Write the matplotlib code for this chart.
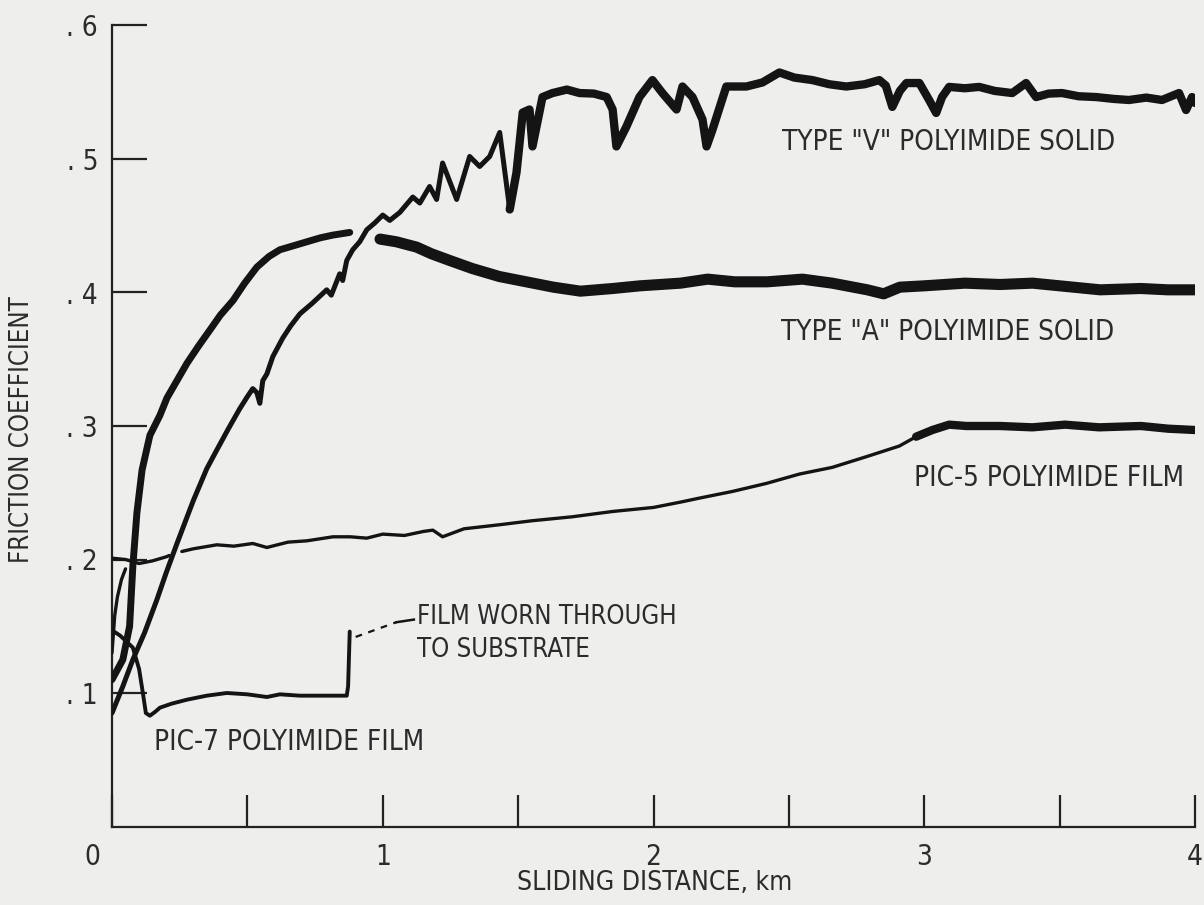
import numpy as np
import matplotlib
matplotlib.use("Agg")
import matplotlib.pyplot as plt
import matplotlib.transforms as mtransforms
from matplotlib import font_manager as fm

# pick a condensed face if one is installed
_cands = []
for f in fm.fontManager.ttflist:
    st = str(f.stretch).lower()
    if ('condensed' in st or 'narrow' in f.name.lower()) and str(f.weight) in ('400', 'normal', 'regular') \
            and f.style == 'normal':
        _cands.append(f)
_pref = ['Liberation Sans Narrow', 'DejaVu Sans', 'Noto Sans', 'Open Sans', 'Roboto']
FONT = dict(family=['DejaVu Sans'])
CONDENSED = False
for p in _pref:
    hit = [f for f in _cands if f.name == p]
    if hit:
        FONT = dict(family=[p, 'DejaVu Sans'], stretch=hit[0].stretch)
        CONDENSED = True
        break
plt.rcParams['font.family'] = FONT['family']
if CONDENSED:
    plt.rcParams['font.stretch'] = FONT['stretch']

# ---------------- data ----------------
nan = np.nan

# Type "V" polyimide solid
v_x = [0.0, 0.04, 0.077, 0.12, 0.166, 0.2, 0.24, 0.3, 0.35, 0.387, 0.43, 0.472, 0.50, 0.52,
       0.535, 0.546, 0.557, 0.572, 0.594, 0.631, 0.66, 0.694, 0.74, 0.793, 0.81, 0.841, 0.852,
       0.867, 0.889, 0.915, 0.941, 0.97, 1.0, 1.026, 1.063, 1.111, 1.137, 1.173, 1.199, 1.221,
       1.273, 1.321, 1.358, 1.395, 1.432, 1.469, 1.494, 1.517, 1.542, 1.553, 1.590, 1.627,
       1.68, 1.727, 1.78, 1.827, 1.849, 1.863, 1.900, 1.948, 1.996, 2.033, 2.085, 2.107, 2.144,
       2.181, 2.196, 2.218, 2.269, 2.343, 2.402, 2.465, 2.52, 2.587, 2.649, 2.712, 2.78, 2.834,
       2.858, 2.882, 2.91, 2.934, 2.982, 3.018, 3.044, 3.066, 3.092, 3.15, 3.203, 3.26, 3.325,
       3.376, 3.413, 3.46, 3.509, 3.57, 3.635, 3.70, 3.756, 3.82, 3.878, 3.941, 3.967, 3.989, 4.0]
v_y = [0.085, 0.105, 0.125, 0.145, 0.17, 0.19, 0.212, 0.244, 0.268, 0.282, 0.298, 0.313, 0.322,
       0.328, 0.325, 0.317, 0.334, 0.339, 0.352, 0.366, 0.375, 0.384, 0.392, 0.402, 0.398, 0.414,
       0.409, 0.424, 0.432, 0.438, 0.447, 0.452, 0.458, 0.454, 0.460, 0.4715, 0.467, 0.4794,
       0.4697, 0.497, 0.4697, 0.5019, 0.4944, 0.5019, 0.5199, 0.4622, 0.4899, 0.5348, 0.5371,
       0.5094, 0.5464, 0.5494, 0.552, 0.5494, 0.549, 0.5464, 0.5371, 0.5094, 0.5243, 0.5464,
       0.5591, 0.5494, 0.5371, 0.5543, 0.5464, 0.5296, 0.5094, 0.522, 0.5543, 0.5543, 0.5573,
       0.5648, 0.561, 0.5591, 0.5560, 0.5543, 0.556, 0.5591, 0.555, 0.539, 0.551, 0.5569, 0.5569,
       0.5442, 0.5345, 0.5465, 0.554, 0.553, 0.554, 0.551, 0.5494, 0.5569, 0.5464, 0.549, 0.5494,
       0.547, 0.5464, 0.545, 0.5442, 0.546, 0.5442, 0.5494, 0.5367, 0.5464, 0.542]

# Type "A" polyimide solid
a_x = [0.0, 0.04, 0.065, 0.077, 0.092, 0.111, 0.14, 0.177, 0.203, 0.24, 0.277, 0.32, 0.362,
       0.40, 0.447, 0.49, 0.535, 0.58, 0.62, 0.67, 0.72, 0.77, 0.816, 0.878, nan,
       0.99, 1.05, 1.125, 1.18, 1.247, 1.33, 1.43, 1.53, 1.63, 1.73, 1.85, 1.95, 2.1, 2.2, 2.3,
       2.42, 2.55, 2.66, 2.79, 2.85, 2.91, 3.0, 3.15, 3.28, 3.4, 3.5, 3.65, 3.8, 3.9, 4.0]
a_y = [0.110, 0.125, 0.150, 0.195, 0.235, 0.267, 0.293, 0.308, 0.321, 0.334, 0.347, 0.360,
       0.372, 0.383, 0.394, 0.407, 0.419, 0.427, 0.432, 0.435, 0.438, 0.441, 0.443, 0.445, nan,
       0.440, 0.438, 0.434, 0.429, 0.424, 0.418, 0.412, 0.408, 0.404, 0.401, 0.403, 0.405, 0.407,
       0.410, 0.408, 0.408, 0.410, 0.407, 0.402, 0.399, 0.404, 0.405, 0.407, 0.406, 0.407, 0.405,
       0.402, 0.403, 0.402, 0.402]

# PIC-5 polyimide film
p5_x = [0.0, 0.05, 0.1, 0.15, 0.2, 0.212, nan, 0.258, 0.3, 0.387, 0.45, 0.52, 0.572, 0.65,
        0.72, 0.816, 0.88, 0.941, 1.0, 1.08, 1.15, 1.185, 1.221, 1.3, 1.43, 1.55, 1.7, 1.85,
        2.0, 2.1, 2.17, 2.292, 2.417, 2.539, 2.66, 2.786, 2.908, 2.97, 3.03, 3.092, 3.155,
        3.28, 3.399, 3.52, 3.646, 3.8, 3.9, 4.0]
p5_y = [0.201, 0.200, 0.197, 0.199, 0.202, 0.203, nan, 0.206, 0.208, 0.211, 0.210, 0.212,
        0.209, 0.213, 0.214, 0.217, 0.217, 0.216, 0.219, 0.218, 0.221, 0.222, 0.217, 0.223,
        0.226, 0.229, 0.232, 0.236, 0.239, 0.243, 0.246, 0.251, 0.257, 0.264, 0.269, 0.277,
        0.285, 0.292, 0.297, 0.301, 0.300, 0.300, 0.299, 0.301, 0.299, 0.300, 0.298, 0.297]

# short start-up trace near the origin
s_x = [0.0, 0.01, 0.02, 0.035, 0.05]
s_y = [0.13, 0.158, 0.172, 0.185, 0.193]

# PIC-7 polyimide film
p7_x = [0.0, 0.03, 0.077, 0.1, 0.114, 0.125, 0.14, 0.16, 0.177, 0.22, 0.277, 0.35, 0.424,
        0.5, 0.572, 0.62, 0.694, 0.78, 0.867, 0.872, 0.878]
p7_y = [0.147, 0.143, 0.134, 0.118, 0.100, 0.085, 0.083, 0.086, 0.089, 0.092, 0.095, 0.098,
        0.100, 0.099, 0.097, 0.099, 0.098, 0.098, 0.098, 0.105, 0.146]

x_major = [0, 1, 2, 3, 4]
x_major_labels = ['0', '1', '2', '3', '4']
x_minor = [0.5, 1.5, 2.5, 3.5]
y_ticks = [0.1, 0.2, 0.3, 0.4, 0.5, 0.6]
y_tick_labels = ['. 1', '. 2', '. 3', '. 4', '. 5', '. 6']

# ---------------- figure ----------------
bg = '#eeeeec'
ink = '#141414'
txt = '#2b2b2b'

k = 1.0 if CONDENSED else 0.86
fs_big = 20 * k      # curve names
fs_note = 18.5 * k   # "film worn through"
fs_xl = 19 * k
fs_yl = 18.5 * k
tfs = 20 * k

fig = plt.figure(figsize=(12.04, 9.05), dpi=100, facecolor=bg)
ax = fig.add_axes([112 / 1204, 78.5 / 905, 1083 / 1204, 801 / 905])
ax.set_facecolor(bg)
ax.set_xlim(0, 4)
ax.set_ylim(0, 0.6)


def draw(xs, ys, lw, lw_thick=None, x_from=None):
    xs = np.asarray(xs, float)
    ys = np.asarray(ys, float)
    ax.plot(xs, ys, color=ink, lw=lw, solid_joinstyle='round', solid_capstyle='round', zorder=3)
    if lw_thick is not None:
        m = xs >= x_from
        ax.plot(xs[m], ys[m], color=ink, lw=lw_thick, solid_joinstyle='round',
                solid_capstyle='round', zorder=3)


draw(v_x, v_y, 3.6, 6.0, 1.45)
draw(a_x, a_y, 5.0, 8.0, 0.98)
draw(p5_x, p5_y, 2.4, 6.0, 2.95)
draw(s_x, s_y, 2.4)
draw(p7_x, p7_y, 2.8)

# leader for "film worn through"
ax.plot([0.90, 1.05], [0.142, 0.153], color=ink, lw=1.6, ls=(0, (3, 3)), zorder=3)
ax.plot([1.05, 1.115], [0.153, 0.155], color=ink, lw=1.8, zorder=3)

ax.text(2.476, 0.5127, 'TYPE "V" POLYIMIDE SOLID', fontsize=fs_big, color=txt, va='center', ha='left')
ax.text(2.472, 0.3704, 'TYPE "A" POLYIMIDE SOLID', fontsize=fs_big, color=txt, va='center', ha='left')
ax.text(2.963, 0.261, 'PIC-5 POLYIMIDE FILM', fontsize=fs_big, color=txt, va='center', ha='left')
ax.text(1.128, 0.157, 'FILM WORN THROUGH', fontsize=fs_note, color=txt, va='center', ha='left')
ax.text(1.128, 0.132, 'TO SUBSTRATE', fontsize=fs_note, color=txt, va='center', ha='left')
ax.text(0.155, 0.0633, 'PIC-7 POLYIMIDE FILM', fontsize=fs_big, color=txt, va='center', ha='left')

# axes styling
for s in ['top', 'right']:
    ax.spines[s].set_visible(False)
for s in ['left', 'bottom']:
    ax.spines[s].set_linewidth(1.6)
    ax.spines[s].set_color('#222222')

ax.set_xticks(x_major)
ax.set_xticklabels(x_major_labels)
ax.set_xticks(x_minor, minor=True)
ax.set_yticks(y_ticks)
ax.set_yticklabels(y_tick_labels)
ax.tick_params(axis='x', which='both', direction='in', length=23, width=1.6, color='#222222',
               labelsize=tfs, labelcolor=txt, pad=12)
ax.tick_params(axis='y', which='both', direction='in', length=25, width=1.6, color='#222222',
               labelsize=tfs, labelcolor=txt, pad=10)
# shift the "0" label a bit to the left as in the reference
lab0 = ax.get_xticklabels()[0]
lab0.set_transform(lab0.get_transform() + mtransforms.ScaledTranslation(-20 / 100, 0, fig.dpi_scale_trans))

fig.text(655 / 1204, 1 - 883 / 905, 'SLIDING DISTANCE, km', fontsize=fs_xl, color=txt,
         ha='center', va='center')
fig.text(22 / 1204, 1 - 430 / 905, 'FRICTION COEFFICIENT', fontsize=fs_yl, color=txt,
         ha='center', va='center', rotation=90)

fig.savefig('out.png', dpi=100, facecolor=bg)
